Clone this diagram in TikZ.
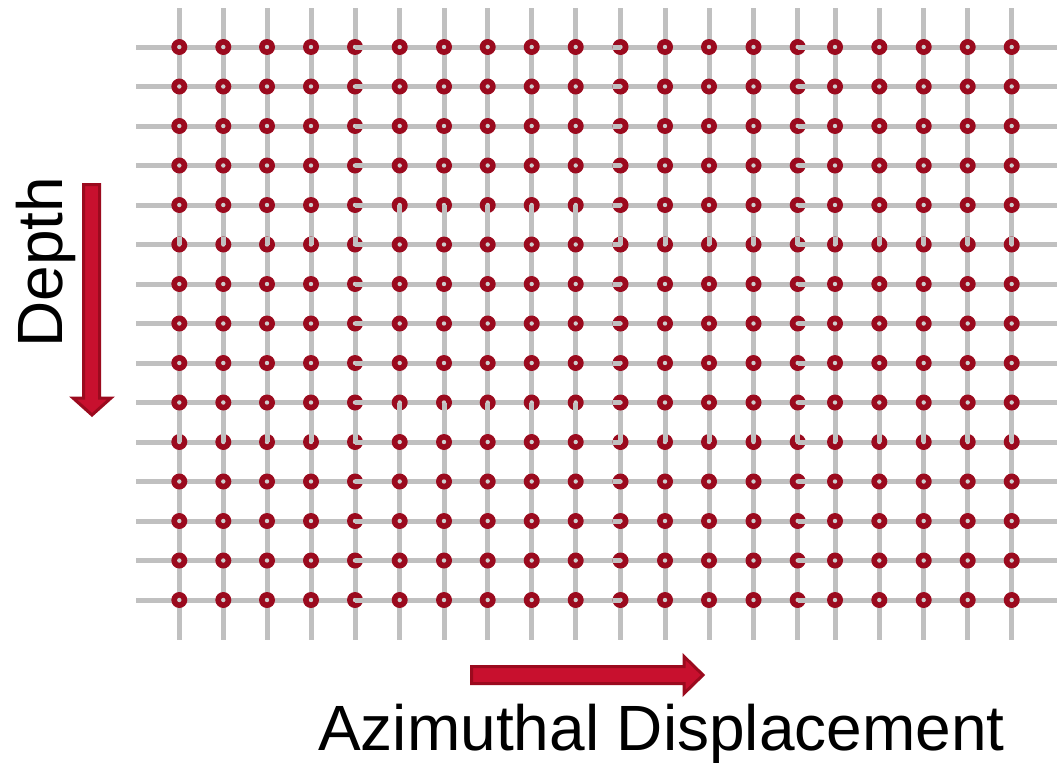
\documentclass[tikz,border=0pt]{standalone}
\usepackage{fontspec}
\setmainfont{Liberation Sans}
\definecolor{gridgray}{HTML}{C0C0C0}
\definecolor{dotred}{HTML}{9B0A1E}
\definecolor{arrowfill}{HTML}{C8102E}
\definecolor{arrowedge}{HTML}{9B0A1E}
\begin{document}
\begin{tikzpicture}[x=1pt,y=-1pt,
  gridline/.style={gridgray, line width=5pt},
  stub/.style={gridgray, line width=5pt, line cap=butt},
  hole/.style={fill=gridgray!80},
  bigarrow/.style={fill=arrowfill, draw=arrowedge, line width=3pt, line join=miter},
  txt/.style={font=\fontsize{64}{76}\selectfont, inner sep=0pt}]
\useasboundingbox (0,0) rectangle (1061,763);
\def\xs{179.3,223.3,267,311,355,399.7,444,487.7,531.7,575.7,620.5,665,709,753.5,797.7,835,879.3,923.7,967.7,1011.7}
% grid lines
\foreach \x in \xs { \draw[gridline] (\x,8) -- (\x,640); }
\foreach \r in {0,...,14} {
  \pgfmathsetmacro\y{47+39.5*\r}
  \draw[gridline] (136,\y) -- (1057,\y);
}
% dots
\foreach \x in \xs {
  \foreach \r in {0,...,14} {
    \pgfmathsetmacro\y{47+39.5*\r}
    \fill[dotred] (\x,\y) circle (8pt);
    \fill[hole] (\x,\y) circle (2.2pt);
  }
}
% overlaid line stubs
\foreach \r in {0,...,14} {
  \pgfmathsetmacro\y{47+39.5*\r}
  \draw[stub] (355,\y) -- (363,\y);
  \draw[stub] (612.5,\y) -- (620.5,\y);
  \draw[stub] (797.7,\y) -- (805.7,\y);
}
\foreach \y in {205,402.5} {
  \foreach \x in {399.7,444,487.7,531.7,575.7} { \draw[stub] (\x,\y) -- (\x,\y+8); }
}
\foreach \y in {244.5,442} {
  \foreach \x in {179.3,223.3,267,311,355,620.5,665,709,753.5,797.7,835,879.3,923.7,967.7,1011.7} { \draw[stub] (\x,\y-8) -- (\x,\y); }
}
% arrows
\draw[bigarrow] (83.5,184.5) -- (99.5,184.5) -- (99.5,398) -- (111,398) -- (92,415) -- (73,398) -- (83.5,398) -- cycle;
\draw[bigarrow] (471.5,666.5) -- (684,666.5) -- (684,656.5) -- (703,675) -- (684,693.5) -- (684,683.5) -- (471.5,683.5) -- cycle;
% labels
\node[txt, rotate=90, anchor=base] (depth) at (62,262) {Depth};
\node[txt, anchor=base] (azim) at (661.5,750) {Azimuthal Displacement};
\end{tikzpicture}
\end{document}
